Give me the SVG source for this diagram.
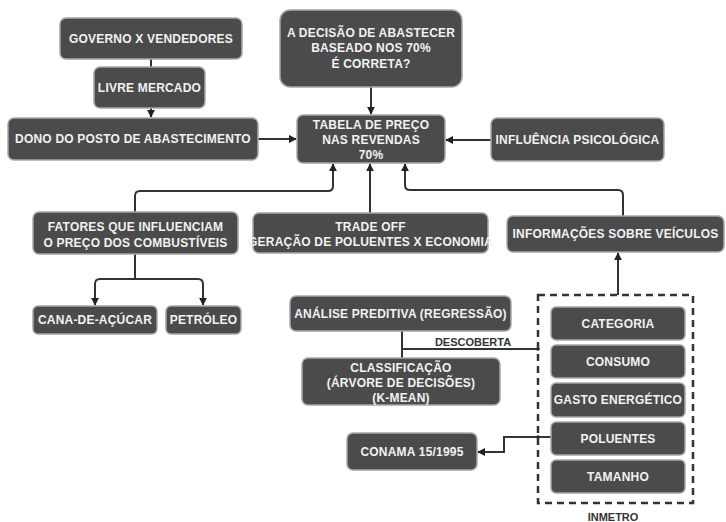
<svg xmlns="http://www.w3.org/2000/svg" width="726" height="522" viewBox="0 0 726 522">
<style>
.n rect{fill:#4b4b4b;stroke:#a8a8a8;stroke-width:1.5}
.n text{font-family:"Liberation Sans",Arial,sans-serif;font-weight:bold;font-size:12px;letter-spacing:0.2px;fill:#f2f2f2;text-anchor:middle;dominant-baseline:central}
.c path{fill:none;stroke:#333;stroke-width:2}
.lbl{font-family:"Liberation Sans",Arial,sans-serif;font-weight:bold;font-size:11px;fill:#333;text-anchor:middle}
</style>
<defs>
<marker id="ar" viewBox="0 0 10 10" refX="9" refY="5" markerWidth="4" markerHeight="4" orient="auto"><path d="M0,0 L10,5 L0,10 z" fill="#222"/></marker>
</defs>
<rect width="726" height="522" fill="#fff"/>
<g class="c">
<path d="M151 59 V67"/>
<path d="M151 108 V117" marker-end="url(#ar)"/>
<path d="M258 139 H296" marker-end="url(#ar)"/>
<path d="M371 87 V114" marker-end="url(#ar)"/>
<path d="M491 140 H446" marker-end="url(#ar)"/>
<path d="M135 212 V196 Q135 191 140 191 H328 Q333 191 333 186 V164" marker-end="url(#ar)"/>
<path d="M370 213 V164" marker-end="url(#ar)"/>
<path d="M623 216 V195 Q623 190 618 190 H410 Q405 190 405 185 V164" marker-end="url(#ar)"/>
<path d="M135 254 V279"/>
<path d="M95 305 V284 Q95 279 100 279 H198 Q203 279 203 284 V305" marker-end="url(#ar)"/>
<path d="M95 284 V305" marker-end="url(#ar)"/>
<path d="M618 295 V253" marker-end="url(#ar)"/>
<path d="M402 331 V358"/>
<path d="M402 349 H538"/>
<path d="M551 437 H504 V452 H478" marker-end="url(#ar)"/>
<circle cx="538" cy="349" r="1.8" fill="#222"/>
<circle cx="538" cy="437" r="1.8" fill="#222"/>
</g>
<text class="lbl" x="473" y="346">DESCOBERTA</text>
<g id="governo" class="n"><rect x="60" y="18" width="182" height="41" rx="6"/><text x="151" y="39">GOVERNO X VENDEDORES</text></g>
<g id="livre" class="n"><rect x="94" y="67" width="111" height="41" rx="6"/><text x="149.5" y="88">LIVRE MERCADO</text></g>
<g id="dono" class="n"><rect x="8" y="118" width="250" height="42" rx="6"/><text x="133" y="139">DONO DO POSTO DE ABASTECIMENTO</text></g>
<g id="decisao" class="n"><rect x="280" y="10" width="182" height="77" rx="10"/><text x="371" y="33">A DECISÃO DE ABASTECER</text><text x="371" y="48">BASEADO NOS 70%</text><text x="371" y="64">É CORRETA?</text></g>
<g id="tabela" class="n"><rect x="297" y="115" width="148" height="48" rx="6"/><text x="371" y="125">TABELA DE PREÇO</text><text x="371" y="140">NAS REVENDAS</text><text x="371" y="155">70%</text></g>
<g id="influencia" class="n"><rect x="491" y="118" width="173" height="43" rx="6"/><text x="577.5" y="140">INFLUÊNCIA PSICOLÓGICA</text></g>
<g id="fatores" class="n"><rect x="33" y="212" width="205" height="42" rx="6"/><text x="135.5" y="227">FATORES QUE INFLUENCIAM</text><text x="135.5" y="243">O PREÇO DOS COMBUSTÍVEIS</text></g>
<g id="trade" class="n"><rect x="253" y="213" width="235" height="40" rx="6"/><text x="370.5" y="227">TRADE OFF</text><text x="370.5" y="242">GERAÇÃO DE POLUENTES X ECONOMIA</text></g>
<g id="info" class="n"><rect x="507" y="216" width="217" height="36" rx="6"/><text x="615.5" y="234">INFORMAÇÕES SOBRE VEÍCULOS</text></g>
<g id="cana" class="n"><rect x="33" y="306" width="124" height="28" rx="5"/><text x="95" y="320">CANA-DE-AÇÚCAR</text></g>
<g id="petroleo" class="n"><rect x="166" y="306" width="75" height="28" rx="5"/><text x="203.5" y="320">PETRÓLEO</text></g>
<g id="analise" class="n"><rect x="290" y="296" width="221" height="35" rx="6"/><text x="400.5" y="313.5">ANÁLISE PREDITIVA (REGRESSÃO)</text></g>
<g id="classificacao" class="n"><rect x="302" y="358" width="198" height="47" rx="6"/><text x="401" y="368">CLASSIFICAÇÃO</text><text x="401" y="383">(ÁRVORE DE DECISÕES)</text><text x="401" y="398">(K-MEAN)</text></g>
<g id="conama" class="n"><rect x="347" y="433" width="130" height="37" rx="6"/><text x="412" y="451.5">CONAMA 15/1995</text></g>
<g id="inmetro">
<rect x="538" y="295" width="155" height="208" fill="none" stroke="#333" stroke-width="2.5" stroke-dasharray="7,5"/>
<text class="lbl" x="613" y="521" font-size="10">INMETRO</text>
<g id="categoria" class="n"><rect x="551" y="307" width="134" height="33" rx="5"/><text x="618" y="323.5">CATEGORIA</text></g>
<g id="consumo" class="n"><rect x="551" y="345" width="134" height="33" rx="5"/><text x="618" y="361.5">CONSUMO</text></g>
<g id="gasto" class="n"><rect x="551" y="383" width="134" height="34" rx="5"/><text x="618" y="400">GASTO ENERGÉTICO</text></g>
<g id="poluentes" class="n"><rect x="551" y="422" width="134" height="33" rx="5"/><text x="618" y="438.5">POLUENTES</text></g>
<g id="tamanho" class="n"><rect x="551" y="460" width="134" height="33" rx="5"/><text x="618" y="476.5">TAMANHO</text></g>
</g>
</svg>
